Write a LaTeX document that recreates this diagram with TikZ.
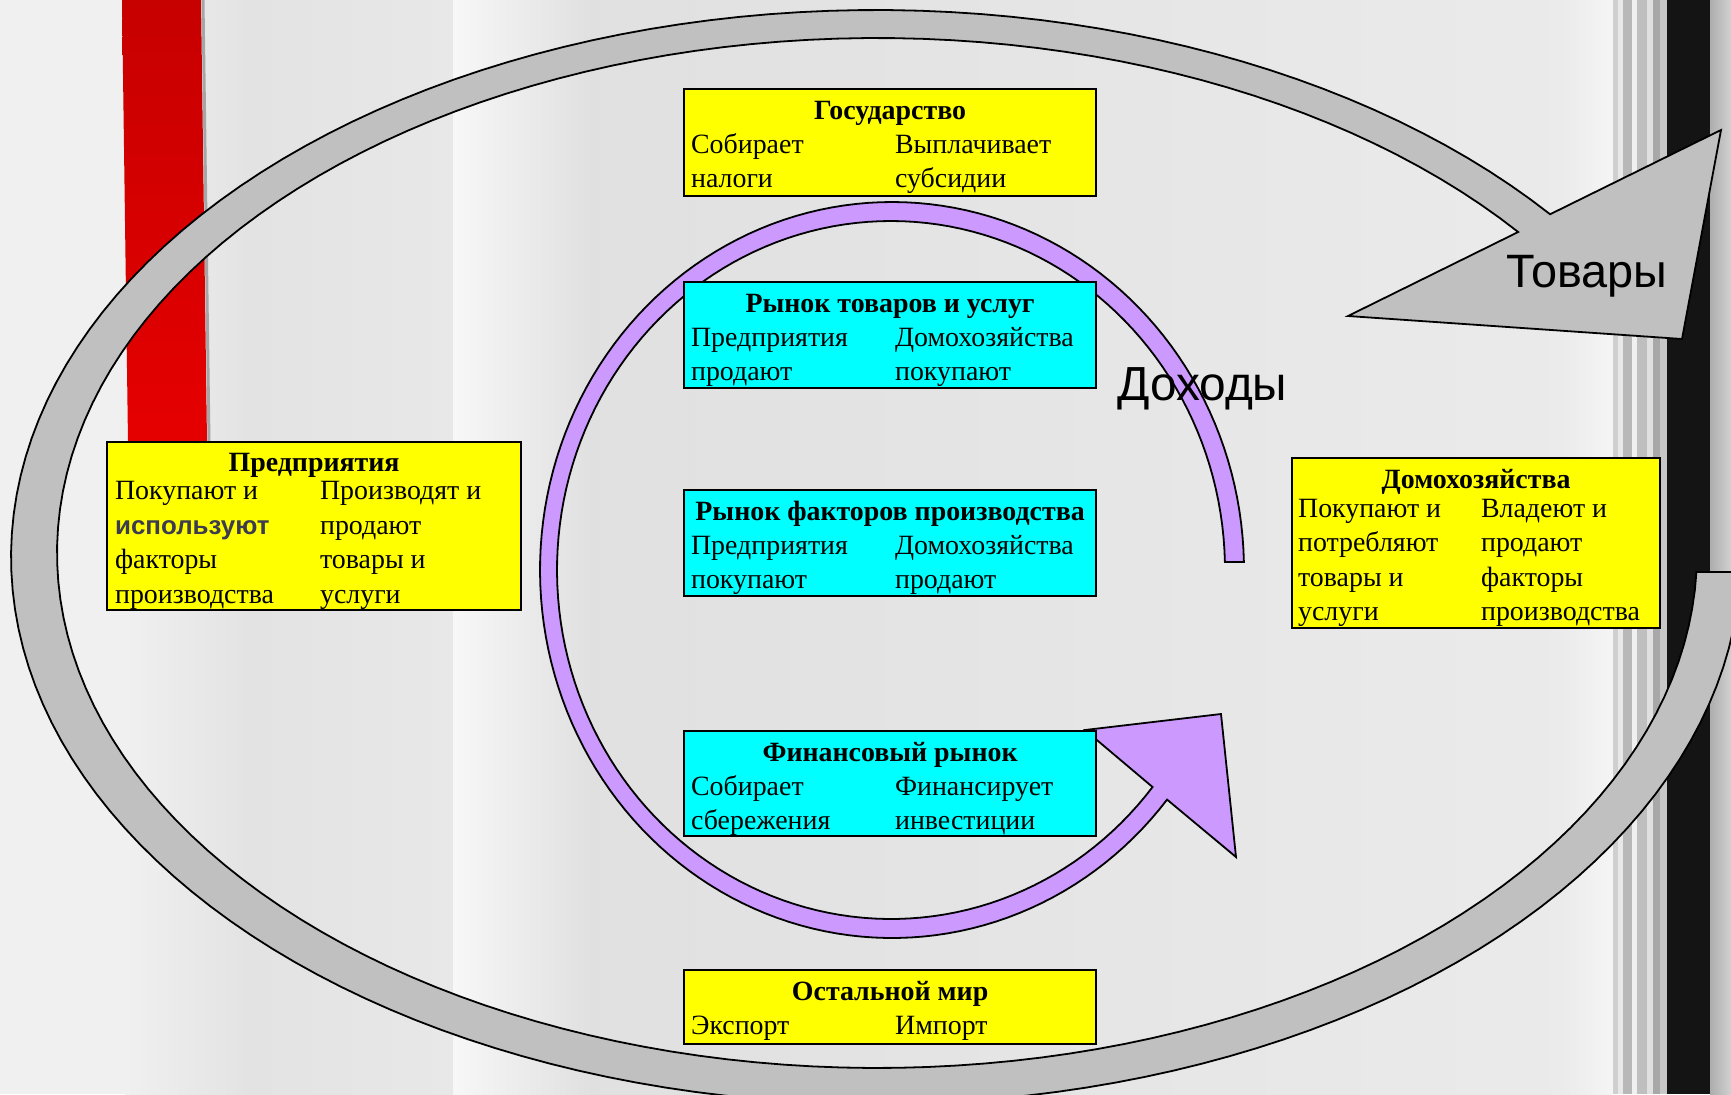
\documentclass[tikz,border=0pt]{standalone}
\usepackage{fontspec}
\setmainfont{Liberation Serif}
\newfontfamily\labelfont{Liberation Sans}
\definecolor{ringgray}{HTML}{C0C0C0}
\definecolor{flowpurple}{HTML}{CC99FF}
\definecolor{sectoryellow}{HTML}{FFFF00}
\definecolor{marketcyan}{HTML}{00FFFF}
\definecolor{wordblue}{HTML}{3C3C4E}
\definecolor{pagebg}{HTML}{F0F0F0}
\begin{document}
\begin{tikzpicture}[
   x=1bp,y=-1bp,
   sector/.style={draw,line width=2.2bp,fill=sectoryellow,inner sep=0pt,anchor=north west,
      font=\fontsize{28}{34.5}\selectfont},
   market/.style={sector,fill=marketcyan},
   ring/.style={draw=black,line width=1.8bp,line join=miter},
   flowlabel/.style={font=\labelfont\fontsize{48}{50}\selectfont,anchor=base west,inner sep=0pt}]
\clip (0,0) rectangle (1731,1094);
% background of the slide
\fill[pagebg] (0,0) rectangle (1731,1094);
\shade[left color=pagebg,right color=black!11] (125,0) rectangle (250,1094);
\shade[left color=black!11,middle color=black!16,right color=black!9] (250,0) rectangle (453,1094);
\shade[left color=black!3,right color=black!12] (453,0) rectangle (590,1094);
\shade[left color=black!12,right color=black!8] (590,0) rectangle (1560,1094);
\shade[left color=black!8,right color=black!4] (1560,0) rectangle (1613,1094);
\fill[black!19] (1613,0) rectangle (1618,1094);
\fill[black!9] (1618,0) rectangle (1623,1094);
\fill[black!28] (1623,0) rectangle (1632,1094);
\fill[black!6] (1632,0) rectangle (1637,1094);
\fill[black!25] (1637,0) rectangle (1647,1094);
\fill[black!12] (1647,0) rectangle (1653,1094);
\fill[black!34] (1653,0) rectangle (1660,1094);
\fill[black!22] (1660,0) rectangle (1667,1094);
\fill[black!92] (1667,0) rectangle (1710,1094);
\shade[left color=black!32,right color=black!18] (1710,0) rectangle (1731,1094);
% red ribbon
\shade[top color=red!78!black,middle color=red,bottom color=red!90!black]
   (122,0) -- (201,0) -- (207,442) -- (128,442) -- cycle;
\draw[black!35,line width=3bp] (203,0) -- (209,442);
% outer flow: goods
\draw[ring,fill=ringgray]
   plot[domain=1.57:321.2,samples=160] ({876+865*cos(\x)},{557+547*sin(\x)})
   -- (1721,130) -- (1682,339) -- (1348,316)
   -- plot[domain=321.44:2.11,samples=160] ({877+820*cos(\x)},{553+515*sin(\x)}) -- cycle;
% inner flow: incomes
\draw[ring,fill=flowpurple]
   plot[domain=-1.25:-321.4,samples=160] ({892+352*cos(\x)},{570+368*sin(\x)})
   -- (1236,857) -- (1221,714) -- (1085,730)
   -- plot[domain=-321.55:-1.31,samples=160] ({891+334*cos(\x)},{570+349*sin(\x)}) -- cycle;
% sectors and markets
\node[sector] (gov) at (683,88) {\parbox[t][107bp][t]{412bp}{%
   \centering\rule{0pt}{30bp}\textbf{Государство}\par\raggedright
   \hspace*{7bp}\makebox[204bp][l]{Собирает}Выплачивает\par
   \hspace*{7bp}\makebox[204bp][l]{налоги}субсидии}};
\node[market] (goodsmarket) at (683,281) {\parbox[t][106bp][t]{412bp}{%
   \centering\rule{0pt}{30bp}\textbf{Рынок товаров и услуг}\par\raggedright
   \hspace*{7bp}\makebox[204bp][l]{Предприятия}Домохозяйства\par
   \hspace*{7bp}\makebox[204bp][l]{продают}покупают}};
\node[market] (factormarket) at (683,489) {\parbox[t][106bp][t]{412bp}{%
   \centering\rule{0pt}{30bp}\textbf{Рынок факторов производства}\par\raggedright
   \hspace*{7bp}\makebox[204bp][l]{Предприятия}Домохозяйства\par
   \hspace*{7bp}\makebox[204bp][l]{покупают}продают}};
\node[market] (finmarket) at (683,730) {\parbox[t][105bp][t]{412bp}{%
   \centering\rule{0pt}{30bp}\textbf{Финансовый рынок}\par\raggedright
   \hspace*{7bp}\makebox[204bp][l]{Собирает}Финансирует\par
   \hspace*{7bp}\makebox[204bp][l]{сбережения}инвестиции}};
\node[sector] (restworld) at (683,969) {\parbox[t][74bp][t]{412bp}{%
   \centering\rule{0pt}{30bp}\textbf{Остальной мир}\par\raggedright
   \hspace*{7bp}\makebox[204bp][l]{Экспорт}Импорт}};
\node[sector] (firms) at (106,441) {\parbox[t][168bp][t]{414bp}{%
   \centering\rule{0pt}{29bp}\textbf{Предприятия}\par\vspace{-5.5bp}\raggedright
   \hspace*{8bp}\makebox[205bp][l]{Покупают и}Производят и\par
   \hspace*{8bp}\makebox[205bp][l]{\labelfont\bfseries\fontsize{26}{30}\selectfont\color{wordblue}используют}продают\par
   \hspace*{8bp}\makebox[205bp][l]{факторы}товары и\par
   \hspace*{8bp}\makebox[205bp][l]{производства}услуги}};
\node[sector] (households) at (1291,457) {\parbox[t][170bp][t]{368bp}{%
   \centering\rule{0pt}{30bp}\textbf{Домохозяйства}\par\vspace{-5bp}\raggedright
   \hspace*{6bp}\makebox[183bp][l]{Покупают и}Владеют и\par
   \hspace*{6bp}\makebox[183bp][l]{потребляют}продают\par
   \hspace*{6bp}\makebox[183bp][l]{товары и}факторы\par
   \hspace*{6bp}\makebox[183bp][l]{услуги}производства}};
% flow labels
\node[flowlabel] (incomes) at (1117,400) {Доходы};
\node[flowlabel,font=\labelfont\fontsize{47}{50}\selectfont] (goods) at (1506,287) {Товары};
\end{tikzpicture}
\end{document}
